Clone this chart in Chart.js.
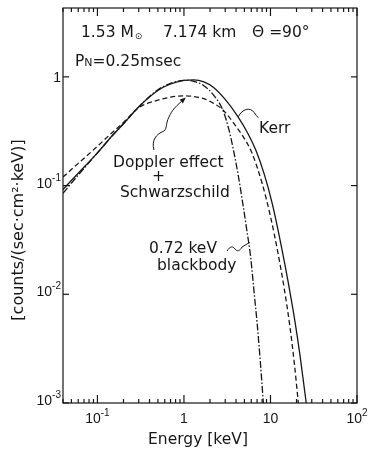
<!DOCTYPE html>
<html>
<head>
<meta charset="utf-8">
<script src="https://cdn.jsdelivr.net/npm/chart.js@4.4.1/dist/chart.umd.min.js"></script>
<style>
  html, body { margin: 0; padding: 0; background: #fff; }
  #wrap { width: 371px; height: 458px; }
</style>
</head>
<body>
<div id="wrap"><canvas id="spec"></canvas></div>
<script>
// Kerr (solid)
const kerrEnergy = [0.04, 0.06, 0.1, 0.15, 0.2, 0.3, 0.5, 0.7, 1.0, 1.3, 1.7, 2.2, 3.0, 4.2, 5.5, 6.8, 8.5, 10.5, 13.2, 16, 19.2, 22, 25.5, 28];
const kerrFlux   = [0.092, 0.13, 0.2, 0.29, 0.37, 0.53, 0.75, 0.86, 0.93, 0.94, 0.9, 0.8, 0.62, 0.43, 0.3, 0.21, 0.126, 0.068, 0.029, 0.013, 0.0056, 0.0027, 0.0011, 0.0006];

// Doppler effect + Schwarzschild (dashed)
const schwEnergy = [0.04, 0.06, 0.1, 0.15, 0.2, 0.3, 0.5, 0.7, 1.0, 1.3, 1.7, 2.2, 2.8, 4.0, 5.0, 6.1, 8.0, 10, 12.2, 14.5, 16.8, 19, 21, 23];
const schwFlux   = [0.12, 0.16, 0.23, 0.31, 0.38, 0.52, 0.61, 0.65, 0.67, 0.66, 0.63, 0.57, 0.5, 0.35, 0.27, 0.2, 0.105, 0.052, 0.024, 0.011, 0.005, 0.0022, 0.001, 0.0005];

// 0.72 keV blackbody (dash-dot)
const bbEnergy = [0.04, 0.06, 0.1, 0.15, 0.2, 0.3, 0.5, 0.7, 1.0, 1.3, 1.7, 2.2, 2.8, 3.3, 3.7, 4.2, 4.7, 5.3, 5.9, 6.5, 7.0, 7.6, 8.2, 8.8];
const bbFlux   = [0.085, 0.125, 0.2, 0.29, 0.37, 0.53, 0.76, 0.87, 0.93, 0.91, 0.83, 0.68, 0.5, 0.33, 0.22, 0.13, 0.075, 0.04, 0.022, 0.01, 0.0055, 0.0025, 0.0011, 0.0005];

const xTicks = [0.1, 1, 10, 100];
const xTickBase = ['10', '1', '10', '10'];
const xTickExp  = ['-1', '', '', '2'];
const yTicks = [0.001, 0.01, 0.1, 1];
const yTickBase = ['10', '10', '10', '1'];
const yTickExp  = ['-3', '-2', '-1', ''];

const INK = '#161616';
const TXT = "15.5px 'DejaVu Sans'";
const TICK = "14px 'Liberation Sans'";
const TICKSUP = "10px 'Liberation Sans'";

const pts = (xs, ys) => xs.map((e, i) => ({ x: e, y: ys[i] }));

function seg(ctx, x1, y1, x2, y2) {
  ctx.beginPath(); ctx.moveTo(x1, y1); ctx.lineTo(x2, y2); ctx.stroke();
}

function powLabel(ctx, base, exp, x, y, align, baseFont, supFont) {
  ctx.font = baseFont;
  const wb = ctx.measureText(base).width;
  ctx.font = supFont;
  const we = exp ? ctx.measureText(exp).width : 0;
  const w = wb + we;
  let x0 = align === 'center' ? x - w / 2 : (align === 'right' ? x - w : x);
  ctx.textAlign = 'left';
  ctx.font = baseFont;
  ctx.fillText(base, x0, y);
  if (exp) {
    ctx.font = supFont;
    ctx.fillText(exp, x0 + wb, y - 7);
  }
}

const frame = {
  id: 'frame',
  afterDraw(chart) {
    const { ctx, chartArea: a, scales: { x, y } } = chart;
    ctx.save();
    ctx.strokeStyle = INK;
    ctx.fillStyle = INK;
    ctx.lineWidth = 1.2;
    ctx.strokeRect(a.left, a.top, a.right - a.left, a.bottom - a.top);

    // inward ticks
    for (let d = -2; d <= 2; d++) {
      for (let m = 1; m <= 9; m++) {
        const v = m * Math.pow(10, d);
        if (v < x.min || v > x.max) continue;
        const px = x.getPixelForValue(v);
        const len = m === 1 ? 8 : 4;
        seg(ctx, px, a.bottom, px, a.bottom - len);
        seg(ctx, px, a.top, px, a.top + len);
      }
    }
    yTicks.forEach(v => {
      const py = y.getPixelForValue(v);
      seg(ctx, a.left, py, a.left + 6, py);
      seg(ctx, a.right, py, a.right - 6, py);
    });

    // tick labels
    ctx.textBaseline = 'alphabetic';
    xTicks.forEach((v, i) => {
      powLabel(ctx, xTickBase[i], xTickExp[i], x.getPixelForValue(v), a.bottom + 20, 'center', TICK, TICKSUP);
    });
    yTicks.forEach((v, i) => {
      const py = y.getPixelForValue(v);
      powLabel(ctx, yTickBase[i], yTickExp[i], a.left - 2, py + (yTickExp[i] ? 2 : 5), 'right', TICK, TICKSUP);
    });

    // axis titles
    ctx.font = TXT;
    ctx.textAlign = 'center';
    ctx.fillText('Energy [keV]', 198, 444);
    ctx.save();
    ctx.translate(19, 230);
    ctx.rotate(-Math.PI / 2);
    ctx.textBaseline = 'middle';
    ctx.font = "16px 'DejaVu Sans'";
    ctx.fillText('[counts/(sec\u00b7cm\u00b2\u00b7keV)]', 0, 0);
    ctx.restore();

    // header
    ctx.textAlign = 'left';
    ctx.textBaseline = 'alphabetic';
    ctx.font = TXT;
    ctx.fillText('1.53 M', 81, 37);
    let w = ctx.measureText('1.53 M').width;
    ctx.font = "9px 'DejaVu Sans'";
    ctx.fillText('\u2299', 81 + w + 1, 39);
    ctx.font = TXT;
    ctx.fillText('7.174 km', 163, 37);
    ctx.fillText('\u0398 =90\u00b0', 252, 37);
    ctx.fillText('P', 75, 66);
    w = ctx.measureText('P').width;
    ctx.font = "11px 'DejaVu Sans'";
    ctx.fillText('N', 75 + w, 66);
    const wn = ctx.measureText('N').width;
    ctx.font = TXT;
    ctx.fillText('=0.25msec', 75 + w + wn, 66);

    // curve labels
    ctx.fillText('Kerr', 259, 133);
    ctx.fillText('Doppler effect', 113, 167);
    ctx.fillText('+', 152, 181);
    ctx.fillText('Schwarzschild', 120, 197);
    ctx.fillText('0.72 keV', 149, 253);
    ctx.fillText('blackbody', 157, 270);

    // leader lines
    ctx.lineWidth = 1;
    const kx = x.getPixelForValue(4.25), ky = y.getPixelForValue(0.43);
    ctx.beginPath();
    ctx.moveTo(kx, ky);
    ctx.bezierCurveTo(kx + 4, ky - 8, kx + 12, ky - 10, kx + 16, ky - 4);
    ctx.quadraticCurveTo(kx + 18, ky - 1, kx + 20, ky + 1);
    ctx.stroke();

    const dx = x.getPixelForValue(1.05), dy = y.getPixelForValue(0.66);
    ctx.beginPath();
    ctx.moveTo(154, 150);
    ctx.bezierCurveTo(151, 140, 157, 134, 162, 132);
    ctx.bezierCurveTo(168, 130, 165, 124, 169, 117);
    ctx.bezierCurveTo(172, 110, 176, 106, dx - 1, dy + 2);
    ctx.stroke();
    ctx.beginPath();
    ctx.moveTo(dx, dy + 1);
    ctx.lineTo(dx - 6, dy + 3);
    ctx.lineTo(dx - 3, dy + 7);
    ctx.closePath();
    ctx.fill();

    const bx = x.getPixelForValue(5.75), by = y.getPixelForValue(0.03);
    ctx.beginPath();
    ctx.moveTo(227, 251);
    ctx.bezierCurveTo(230, 246, 233, 246, 235, 249);
    ctx.bezierCurveTo(237, 252, 240, 251, 242, 247);
    ctx.lineTo(bx, by);
    ctx.stroke();
    ctx.restore();
  }
};

new Chart(document.getElementById('spec').getContext('2d'), {
  type: 'scatter',
  data: {
    datasets: [
      { label: 'Kerr', data: pts(kerrEnergy, kerrFlux), borderDash: [] },
      { label: 'Doppler effect + Schwarzschild', data: pts(schwEnergy, schwFlux), borderDash: [5, 3] },
      { label: '0.72 keV blackbody', data: pts(bbEnergy, bbFlux), borderDash: [7, 2, 1.5, 2] }
    ].map(ds => Object.assign(ds, {
      showLine: true,
      borderColor: INK,
      borderWidth: 1.3,
      pointRadius: 0,
      cubicInterpolationMode: 'monotone',
      fill: false
    }))
  },
  options: {
    responsive: true,
    maintainAspectRatio: false,
    animation: false,
    layout: { padding: { left: 63, right: 14, top: 8, bottom: 55 } },
    plugins: { legend: { display: false }, tooltip: { enabled: false } },
    scales: {
      x: { type: 'logarithmic', min: 0.04, max: 100, display: false },
      y: { type: 'logarithmic', min: 0.001, max: 4.3, display: false }
    }
  },
  plugins: [frame]
});
</script>
</body>
</html>
